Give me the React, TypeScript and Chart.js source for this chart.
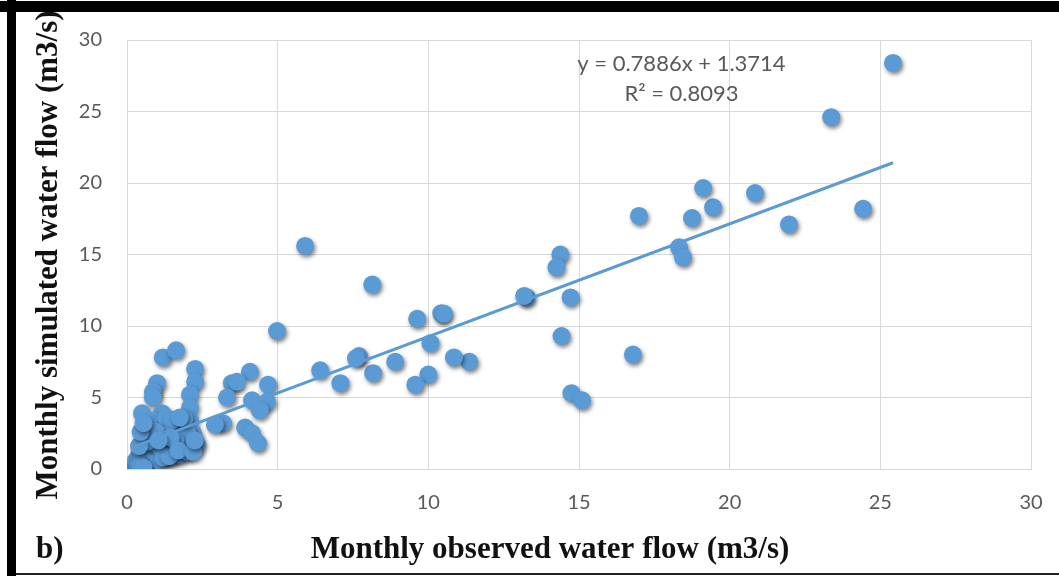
import { useEffect, useRef } from "react";
import { Chart, registerables } from "chart.js";

Chart.register(...registerables);

// Monthly observed (x) and simulated (y) water flow, m3/s
const observed = [
  25.42, 23.37, 24.43, 21.97, 20.84, 19.45, 19.12, 18.75, 18.32, 18.45,
  16.99, 16.79, 14.38, 14.25, 13.26, 13.18, 14.72, 14.42, 14.75, 15.1,
  10.43, 10.52, 9.63, 10.07, 11.36, 10.85, 10.0, 9.57, 8.9, 8.17,
  7.7, 7.6, 7.08, 6.41, 8.14, 5.91, 4.98,
  1.19, 1.63, 2.26, 2.26, 2.09, 2.09, 1.0, 0.86, 0.86, 0.5,
  1.16, 4.08, 3.48, 3.65, 3.32, 4.68, 4.15, 4.65, 4.41, 3.19,
  3.92, 4.15, 4.35, 2.92, 2.09, 2.19, 2.32,
  0.2, 0.25, 0.3, 0.3, 0.35, 0.4, 0.4, 0.45, 0.5, 0.5,
  0.55, 0.6, 0.6, 0.65, 0.7, 0.7, 0.75, 0.8, 0.8, 0.85,
  0.9, 0.9, 1.0, 1.0, 1.05, 1.1, 1.15, 1.2, 1.25, 1.3,
  1.35, 1.4, 1.5, 1.5, 1.6, 1.65, 1.75, 1.75, 1.8, 1.85,
  1.9, 2.0, 2.0, 2.1, 0.45, 0.55, 1.2, 1.4,
  1.3, 1.5, 1.9, 1.6, 1.2, 0.95, 1.45, 1.7, 2.2, 2.25,
  0.65, 0.4, 0.45, 0.55, 1.05, 1.75,
];
const simulated = [
  28.4, 24.6, 18.2, 17.1, 19.3, 18.3, 19.65, 17.55, 15.5, 14.8,
  17.7, 8.0, 15.0, 14.1, 12.0, 12.1, 12.0, 9.3, 5.3, 4.8,
  10.9, 10.85, 10.5, 8.8, 7.5, 7.8, 6.6, 5.9, 7.5, 6.7,
  7.9, 7.75, 6.0, 6.9, 12.9, 15.6, 9.65,
  7.8, 8.3, 7.0, 6.1, 5.2, 4.3, 6.0, 5.4, 5.0, 3.9,
  3.9, 6.8, 6.0, 6.1, 5.0, 5.9, 4.8, 4.7, 4.1, 3.2,
  2.9, 2.5, 1.8, 3.1, 3.4, 2.5, 1.7,
  0.1, 0.3, 0.05, 0.6, 0.2, 0.9, 0.4, 1.3, 0.7, 1.8,
  2.3, 1.0, 2.7, 0.5, 1.5, 3.1, 2.0, 0.8, 2.6, 3.4,
  1.2, 2.2, 1.7, 3.0, 0.6, 2.5, 1.4, 3.3, 2.0, 1.0,
  2.8, 1.8, 0.9, 2.5, 1.6, 3.1, 2.3, 1.0, 2.8, 1.5,
  2.0, 2.6, 1.2, 1.9, 0.2, 0.1, 0.8, 0.9,
  3.6, 3.4, 3.5, 2.0, 2.4, 2.6, 2.2, 1.3, 1.2, 2.0,
  1.9, 1.6, 2.6, 3.2, 2.0, 3.6,
];

const axisTicks = [0, 5, 10, 15, 20, 25, 30];
const trendSlope = 0.7886;
const trendIntercept = 1.3714;
const equationLines = ["y = 0.7886x + 1.3714", "R² = 0.8093"];
const xTitle = "Monthly observed water flow (m3/s)";
const yTitle = "Monthly simulated water flow (m3/s)";
const panelLabel = "b)";

const BLUE = "#5B9BD5";
const TICK_FONT = 'Lato, "Liberation Sans", sans-serif';
const TITLE_FONT = 'bold 31px "Liberation Serif", "Times New Roman", serif';

export default function App() {
  const ref = useRef<HTMLCanvasElement | null>(null);

  useEffect(() => {
    if (!ref.current) return;
    const points = observed.map((x, i) => ({ x, y: simulated[i] }));
    const xMin = Math.min(...observed);
    const xMax = Math.max(...observed);
    const trend = [
      { x: xMin, y: trendSlope * xMin + trendIntercept },
      { x: xMax, y: trendSlope * xMax + trendIntercept },
    ];

    const shadowPlugin = {
      id: "markerShadow",
      beforeDatasetDraw(chart: any, args: any) {
        if (args.index !== 1) return;
        const c = chart.ctx;
        c.save();
        c.shadowColor = "rgba(0,0,0,0.5)";
        c.shadowBlur = 4;
        c.shadowOffsetX = 1.5;
        c.shadowOffsetY = 2.5;
      },
      afterDatasetDraw(chart: any, args: any) {
        if (args.index !== 1) return;
        chart.ctx.restore();
      },
    };

    const textPlugin = {
      id: "texts",
      afterDraw(chart: any) {
        const { ctx, scales } = chart;
        const xs = scales.x;
        const ys = scales.y;
        ctx.save();
        ctx.font = `22px ${TICK_FONT}`;
        ctx.fillStyle = "#595959";
        ctx.textAlign = "center";
        ctx.textBaseline = "middle";
        ctx.fillText(equationLines[0], xs.getPixelForValue(18.4), ys.getPixelForValue(28.35));
        ctx.fillText(equationLines[1], xs.getPixelForValue(18.4), ys.getPixelForValue(26.25));
        ctx.font = TITLE_FONT;
        ctx.fillStyle = "#111";
        ctx.textAlign = "center";
        ctx.textBaseline = "alphabetic";
        ctx.fillText(xTitle, 550, 558);
        ctx.save();
        ctx.translate(57, 255);
        ctx.rotate(-Math.PI / 2);
        ctx.fillText(yTitle, 0, 0);
        ctx.restore();
        ctx.textAlign = "left";
        ctx.fillText(panelLabel, 36, 558);
        ctx.restore();
      },
    };

    const chart = new Chart(ref.current, {
      type: "scatter",
      data: {
        datasets: [
          {
            label: "Linear trend",
            data: trend,
            showLine: true,
            borderColor: BLUE,
            borderWidth: 3,
            pointRadius: 0,
            fill: false,
          },
          {
            label: "Monthly flow",
            data: points,
            backgroundColor: BLUE,
            borderWidth: 0,
            pointRadius: 9,
          },
        ],
      },
      options: {
        animation: false,
        responsive: false,
        layout: { padding: { top: 40, right: 28, left: 0, bottom: 0 } },
        plugins: { legend: { display: false }, tooltip: { enabled: false } },
        scales: {
          x: {
            type: "linear",
            min: axisTicks[0],
            max: axisTicks[axisTicks.length - 1],
            afterBuildTicks: (s: any) => {
              s.ticks = axisTicks.map((v) => ({ value: v }));
            },
            afterFit: (s: any) => {
              s.height = 107;
              s.paddingLeft = 0;
              s.paddingRight = 0;
            },
            grid: { color: "#d9d9d9", lineWidth: 1, drawTicks: false },
            border: { color: "#d9d9d9" },
            ticks: {
              padding: 22,
              color: "#595959",
              font: { family: TICK_FONT, size: 20 },
            },
          },
          y: {
            type: "linear",
            min: axisTicks[0],
            max: axisTicks[axisTicks.length - 1],
            afterBuildTicks: (s: any) => {
              s.ticks = axisTicks.map((v) => ({ value: v }));
            },
            afterFit: (s: any) => {
              s.width = 127;
              s.paddingTop = 0;
              s.paddingBottom = 0;
            },
            grid: { color: "#d9d9d9", lineWidth: 1, drawTicks: false },
            border: { color: "#d9d9d9" },
            ticks: {
              padding: 25,
              color: "#595959",
              font: { family: TICK_FONT, size: 20 },
            },
          },
        },
      },
      plugins: [shadowPlugin, textPlugin],
    } as any);
    return () => chart.destroy();
  }, []);

  return (
    <div style={{ position: "absolute", left: 0, top: 0, width: 1059, height: 576, background: "#fff", overflow: "hidden" }}>
      <canvas ref={ref} width={1059} height={576} style={{ display: "block" }} />
      <div style={{ position: "absolute", left: 0, top: 1, width: 1059, height: 11, background: "#000" }} />
      <div style={{ position: "absolute", left: 7, top: 0, width: 9, height: 576, background: "#000" }} />
      <div style={{ position: "absolute", left: 16, top: 573, width: 1043, height: 2, background: "#222" }} />
    </div>
  );
}
